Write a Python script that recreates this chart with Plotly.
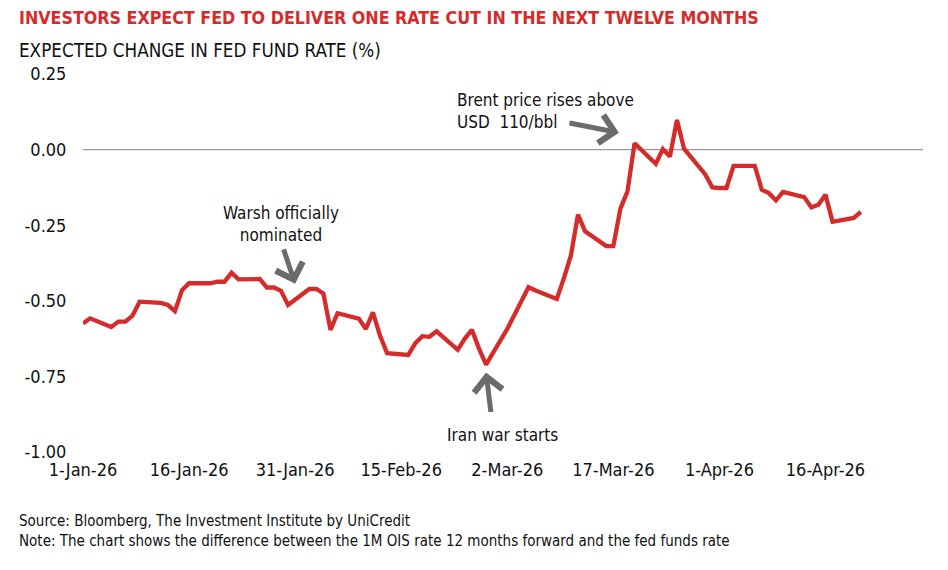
import plotly.graph_objects as go

# readings of the OIS-implied change (%), business days 2026
dates = ['2026-01-01', '2026-01-02', '2026-01-05', '2026-01-06', '2026-01-07', '2026-01-08',
         '2026-01-09', '2026-01-12', '2026-01-13', '2026-01-14', '2026-01-15', '2026-01-16',
         '2026-01-19', '2026-01-20', '2026-01-21', '2026-01-22', '2026-01-23', '2026-01-26',
         '2026-01-27', '2026-01-28', '2026-01-29', '2026-01-30', '2026-02-02', '2026-02-03',
         '2026-02-04', '2026-02-05', '2026-02-06', '2026-02-09', '2026-02-10', '2026-02-11',
         '2026-02-12', '2026-02-13', '2026-02-16', '2026-02-17', '2026-02-18', '2026-02-19',
         '2026-02-20', '2026-02-23', '2026-02-24', '2026-02-25', '2026-02-26', '2026-02-27',
         '2026-03-02', '2026-03-03', '2026-03-04', '2026-03-05', '2026-03-06', '2026-03-09',
         '2026-03-10', '2026-03-11', '2026-03-12', '2026-03-13', '2026-03-16', '2026-03-17',
         '2026-03-18', '2026-03-19', '2026-03-20', '2026-03-23', '2026-03-24', '2026-03-25',
         '2026-03-26', '2026-03-27', '2026-03-30', '2026-03-31', '2026-04-01', '2026-04-02',
         '2026-04-03', '2026-04-06', '2026-04-07', '2026-04-08', '2026-04-09', '2026-04-10',
         '2026-04-13', '2026-04-14', '2026-04-15', '2026-04-16', '2026-04-17', '2026-04-20',
         '2026-04-21']
change = [-0.575, -0.558, -0.587, -0.569, -0.569, -0.549,
          -0.503, -0.507, -0.514, -0.534, -0.465, -0.442,
          -0.442, -0.437, -0.437, -0.407, -0.429, -0.428,
          -0.456, -0.456, -0.467, -0.514, -0.461, -0.461,
          -0.476, -0.596, -0.541, -0.559, -0.593, -0.538,
          -0.615, -0.673, -0.679, -0.640, -0.617, -0.619,
          -0.601, -0.662, -0.625, -0.596, -0.658, -0.711,
          -0.593, -0.545, -0.498, -0.455, -0.466, -0.494,
          -0.426, -0.350, -0.215, -0.270, -0.319, -0.319,
          -0.195, -0.138, 0.021, -0.047, 0.002, -0.023,
          0.098, 0.003, -0.082, -0.125, -0.127, -0.127,
          -0.054, -0.054, -0.133, -0.144, -0.168, -0.140,
          -0.157, -0.191, -0.182, -0.149, -0.239, -0.226,
          -0.206]

y_ticks = [-1.0, -0.75, -0.5, -0.25, 0.0, 0.25]
y_labels = ['-1.00', '-0.75', '-0.50', '-0.25', '0.00', '0.25']

FONT = "DejaVu Sans Condensed, Roboto, sans-serif"
RED = '#d52b2b'
GREY = '#6b6b6b'

# plot area size in px (page adds an 8px body margin)
L, T, PW, PH = 75, 66, 840, 378

fig = go.Figure()
fig.add_trace(go.Scatter(x=dates, y=change, mode='lines',
                         line=dict(color=RED, width=4.3), hoverinfo='skip'))

# zero reference line
fig.add_hline(y=0, line=dict(color='#9a9a9a', width=1.2), layer='below')

fig.update_layout(
    width=948, height=570,
    margin=dict(l=L, r=948 - L - PW, t=T, b=570 - T - PH),
    paper_bgcolor='white', plot_bgcolor='white',
    showlegend=False,
    font=dict(family=FONT, size=18, color='#111111'),
)
fig.update_xaxes(
    type='date', range=['2026-01-01', '2026-04-29 19:00'],
    tick0='2026-01-01', dtick=15 * 86400000, tickformat='%-d-%b-%y',
    showgrid=False, zeroline=False, showline=False,
    ticks='outside', ticklen=1, tickcolor='rgba(0,0,0,0)',
    tickfont=dict(size=18), automargin=False,
)
fig.update_yaxes(
    range=[-1.0, 0.25], tickvals=y_ticks, ticktext=y_labels,
    showgrid=False, zeroline=False, showline=False,
    ticks='outside', ticklen=12, tickcolor='rgba(0,0,0,0)',
    tickfont=dict(size=18), automargin=False,
)

# titles and footnotes
fig.add_annotation(text='<b>INVESTORS EXPECT FED TO DELIVER ONE RATE CUT IN THE NEXT TWELVE MONTHS</b>',
                   xref='paper', yref='paper', x=(9 - L) / PW, y=1 + (T - 10) / PH,
                   xanchor='left', yanchor='middle', showarrow=False,
                   font=dict(size=17.7, color=RED))
fig.add_annotation(text='EXPECTED CHANGE IN FED FUND RATE (%)',
                   xref='paper', yref='paper', x=(9 - L) / PW, y=1 + (T - 42) / PH,
                   xanchor='left', yanchor='middle', showarrow=False,
                   font=dict(size=18.7))
fig.add_annotation(text='Source: Bloomberg, The Investment Institute by UniCredit<br>'
                        'Note: The chart shows the difference between the 1M OIS rate 12 months forward and the fed funds rate',
                   xref='paper', yref='paper', x=(9 - L) / PW, y=-(502 - T - PH) / PH,
                   xanchor='left', yanchor='top', align='left', showarrow=False,
                   font=dict(size=15))

# event labels with arrows
arrow = dict(showarrow=True, arrowhead=4, arrowsize=1.1, arrowwidth=5,
             arrowcolor=GREY, standoff=0, text='')
fig.add_annotation(x='2026-01-31', y=-0.444, ax=-12, ay=-36, **arrow)
fig.add_annotation(x='2026-01-29', y=-0.245, text='Warsh officially<br>nominated',
                   showarrow=False, font=dict(size=17))
fig.add_annotation(x='2026-02-27', y=-0.737, ax=5, ay=41, **arrow)
fig.add_annotation(x='2026-03-01 07:00', y=-0.944, text='Iran war starts',
                   showarrow=False, font=dict(size=17))
fig.add_annotation(x='2026-03-17 19:00', y=0.056, ax=-51, ay=-10, **arrow)
fig.add_annotation(x='2026-02-22 14:00', y=0.128, text='Brent price rises above<br>USD  110/bbl',
                   xanchor='left', align='left', showarrow=False, font=dict(size=17))

fig.write_html("out.html")
